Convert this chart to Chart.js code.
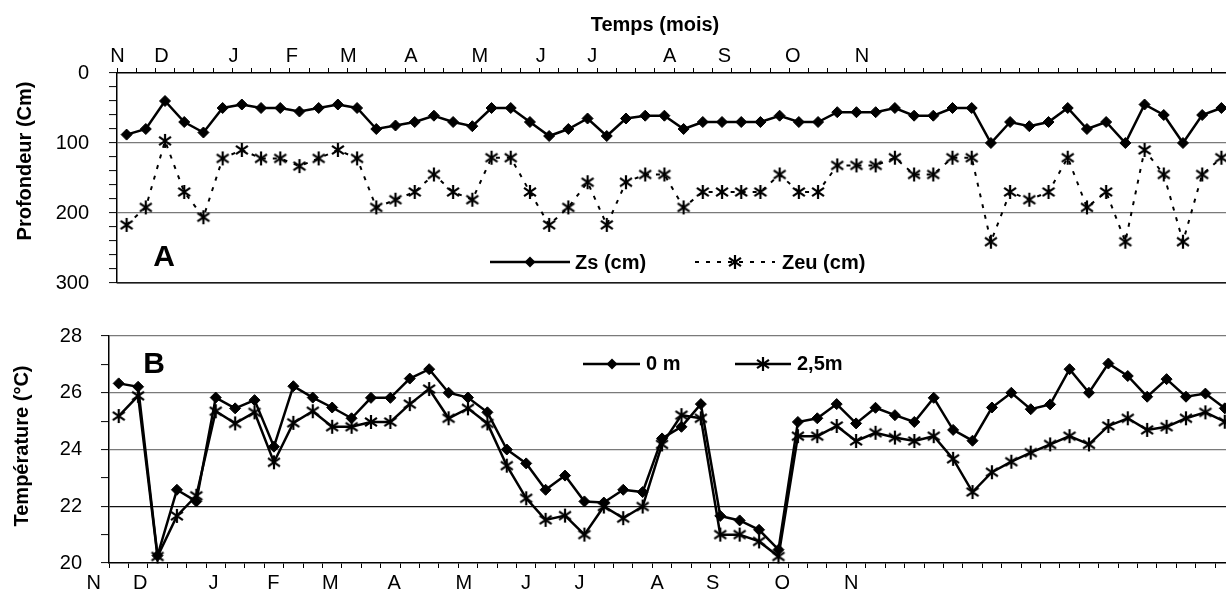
<!DOCTYPE html>
<html>
<head>
<meta charset="utf-8">
<script src="https://cdn.jsdelivr.net/npm/chart.js@4.4.1/dist/chart.umd.min.js"></script>
<style>
  html, body { margin: 0; padding: 0; background: #fff; overflow: hidden; }
  #wrap { position: relative; width: 1226px; height: 592px; overflow: hidden; }
  #chartA { position: absolute; left: 0; top: 0; width: 1240px; height: 300px; }
  #chartB { position: absolute; left: 0; top: 300px; width: 1244px; height: 292px; }
</style>
</head>
<body>
<div id="wrap">
  <canvas id="chartA" width="1240" height="300"></canvas>
  <canvas id="chartB" width="1244" height="292"></canvas>
</div>
<script>
// Month labels and where they sit (in sampling-index units)
const months = ['N', 'D', 'J', 'F', 'M', 'A', 'M', 'J', 'J', 'A', 'S', 'O', 'N'];
const monthPosA = [-0.47, 1.82, 5.56, 8.6, 11.54, 14.8, 18.39, 21.56, 24.25, 28.27, 31.13, 34.68, 38.29];
const monthPosB = [-1.29, 1.11, 4.88, 7.97, 10.91, 14.2, 17.78, 20.99, 23.74, 27.75, 30.61, 34.19, 37.75];

const depthTicks = [0, 100, 200, 300];
const tempTicks = [20, 22, 24, 26, 28];

// Panel A : depths (cm)
const zs = [88, 80, 40, 70, 85, 50, 45, 50, 50, 55, 50, 45, 50, 80, 75, 70,
  61, 70, 76, 50, 50, 70, 90, 80, 65, 90, 65, 61, 61, 80, 70, 70, 70, 70, 61, 70, 70,
  56, 56, 56, 50, 61, 61, 50, 50, 100, 70, 76, 70, 50, 80, 70, 100, 45, 60, 100, 60, 50];
const zeu = [217, 192, 97, 170, 206, 122, 110, 122, 122, 133, 122, 110, 122, 192, 181, 170,
  145, 170, 181, 121, 121, 170, 217, 192, 156, 217, 156, 145, 145, 192, 170, 170, 170, 170, 145, 170, 170,
  132, 132, 132, 121, 145, 145, 121, 121, 241, 170, 181, 170, 121, 192, 170, 241, 110, 145, 241, 145, 121];

// Panel B : temperature (°C)
const temp0 = [26.33, 26.21, 20.26, 22.58, 22.17, 25.83, 25.45, 25.74, 24.1, 26.23, 25.83, 25.48, 25.1, 25.82, 25.82, 26.5,
  26.83, 26.0, 25.83, 25.31, 24.0, 23.51, 22.58, 23.08, 22.17, 22.13, 22.58, 22.5, 24.39, 24.8, 25.6, 21.66, 21.5, 21.17, 20.47, 24.97, 25.1,
  25.6, 24.92, 25.47, 25.21, 24.97, 25.82, 24.69, 24.31, 25.48, 26.0, 25.42, 25.59, 26.83, 26.0, 27.03, 26.59, 25.86, 26.48, 25.86, 25.97, 25.45];
const temp25 = [25.18, 25.89, 20.23, 21.66, 22.37, 25.35, 24.92, 25.31, 23.55, 24.94, 25.35, 24.8, 24.8, 24.97, 24.97, 25.6,
  26.13, 25.1, 25.45, 24.92, 23.43, 22.28, 21.52, 21.67, 21.0, 21.99, 21.58, 21.99, 24.18, 25.21, 25.1, 21.0, 21.0, 20.76, 20.23, 24.47, 24.47,
  24.83, 24.3, 24.59, 24.42, 24.3, 24.47, 23.67, 22.5, 23.2, 23.57, 23.89, 24.18, 24.47, 24.18, 24.83, 25.1, 24.69, 24.8, 25.1, 25.31, 24.98];

const FONT = '"Liberation Sans", Arial, sans-serif';
Chart.defaults.font.family = FONT;
Chart.defaults.font.size = 20;
Chart.defaults.color = '#000';

// asterisk marker (x + vertical bar)
function makeStar(size) {
  const c = document.createElement('canvas');
  c.width = size;
  c.height = size;
  const g = c.getContext('2d');
  const m = size / 2, r = size / 2 - 1;
  g.strokeStyle = '#000';
  g.lineWidth = 2.2;
  g.beginPath();
  g.moveTo(m, m - r); g.lineTo(m, m + r);
  g.moveTo(m - r * 0.85, m - r * 0.6); g.lineTo(m + r * 0.85, m + r * 0.6);
  g.moveTo(m - r * 0.85, m + r * 0.6); g.lineTo(m + r * 0.85, m - r * 0.6);
  g.stroke();
  return c;
}
const star = makeStar(16);

function pts(arr) {
  return arr.map((v, i) => ({ x: i, y: v }));
}

function diamond(ctx, x, y, r) {
  ctx.beginPath();
  ctx.moveTo(x, y - r);
  ctx.lineTo(x + r, y);
  ctx.lineTo(x, y + r);
  ctx.lineTo(x - r, y);
  ctx.closePath();
  ctx.fill();
}

function vText(ctx, txt, x, y) {
  ctx.save();
  ctx.translate(x, y);
  ctx.rotate(-Math.PI / 2);
  ctx.textAlign = 'center';
  ctx.textBaseline = 'middle';
  ctx.fillText(txt, 0, 0);
  ctx.restore();
}

function noPad(s) {
  s.paddingTop = 0;
  s.paddingBottom = 0;
  s.paddingLeft = 0;
  s.paddingRight = 0;
}

// time axis: a tick mark between each sampling date, month names as extra ticks
function timeAxis(position, monthPos, height, pad) {
  const n = zs.length;
  return {
    type: 'linear',
    position: position,
    min: -0.5,
    max: n - 0.5,
    afterBuildTicks: (s) => {
      const t = [];
      for (let k = 0; k <= n; k++) t.push({ value: k - 0.5 });
      monthPos.forEach((v) => t.push({ value: v }));
      t.sort((a, b) => a.value - b.value);
      s.ticks = t;
    },
    afterFit: (s) => { s.height = height; noPad(s); },
    ticks: {
      autoSkip: false,
      maxRotation: 0,
      minRotation: 0,
      padding: pad,
      font: { size: 20, lineHeight: 1.2 },
      callback: (v) => {
        const i = monthPos.indexOf(v);
        return i >= 0 ? months[i] : '';
      },
    },
    grid: {
      drawOnChartArea: false,
      drawTicks: true,
      tickLength: 5,
      tickWidth: 1,
      tickColor: (c) => (c.tick && Number.isInteger(c.tick.value + 0.5) ? '#000' : 'rgba(0,0,0,0)'),
    },
    border: { color: '#000', width: 1.5 },
  };
}

const common = {
  responsive: false,
  animation: false,
  events: [],
  plugins: { legend: { display: false }, tooltip: { enabled: false } },
};

// Panel A
new Chart(document.getElementById('chartA').getContext('2d'), {
  type: 'line',
  data: {
    datasets: [
      {
        label: 'Zs (cm)',
        data: pts(zs),
        borderColor: '#000',
        borderWidth: 2.5,
        pointStyle: 'rectRot',
        pointRadius: 5.5,
        pointBackgroundColor: '#000',
        pointBorderColor: '#000',
        pointBorderWidth: 1,
        tension: 0,
        clip: false,
      },
      {
        label: 'Zeu (cm)',
        data: pts(zeu),
        borderColor: '#000',
        borderWidth: 2,
        borderDash: [4, 7],
        pointStyle: star,
        pointRadius: 7,
        tension: 0,
        clip: false,
      },
    ],
  },
  options: {
    ...common,
    layout: { padding: { left: 0, top: 0, right: 8, bottom: 17 } },
    scales: {
      x: timeAxis('top', monthPosA, 73, 0),
      y: {
        reverse: true,
        min: 0,
        max: 300,
        afterBuildTicks: (s) => {
          const t = [];
          for (let v = 0; v <= 300; v += 20) t.push({ value: v });
          s.ticks = t;
        },
        afterFit: (s) => { s.width = 117; noPad(s); },
        ticks: {
          autoSkip: false,
          padding: 20,
          callback: (v) => (depthTicks.includes(v) ? String(v) : ''),
        },
        grid: {
          tickLength: 8,
          tickColor: '#000',
          tickWidth: 1,
          lineWidth: 1.2,
          color: (c) => {
            const v = c.tick ? c.tick.value : null;
            if (v === 300) return '#222';
            if (v !== 0 && depthTicks.includes(v)) return '#7a7a7a';
            return 'rgba(0,0,0,0)';
          },
        },
        border: { color: '#000', width: 1.5 },
      },
    },
  },
  plugins: [{
    id: 'decoA',
    afterDraw(chart) {
      const ctx = chart.ctx;
      const a = chart.chartArea;
      ctx.save();
      // closing line along the deepest tick
      const yb = Math.round(chart.scales.y.getPixelForValue(depthTicks[depthTicks.length - 1]));
      ctx.fillStyle = '#1a1a1a';
      ctx.fillRect(a.left, yb - 1, a.right - a.left, 1.5);

      ctx.fillStyle = '#000';
      ctx.strokeStyle = '#000';
      ctx.font = 'bold 20px ' + FONT;
      ctx.textAlign = 'center';
      ctx.textBaseline = 'middle';
      ctx.fillText('Temps (mois)', 655, 25);
      vText(ctx, 'Profondeur (Cm)', 25, 161);
      ctx.font = 'bold 30px ' + FONT;
      ctx.fillText('A', 164, 258);

      // legend
      ctx.font = 'bold 20px ' + FONT;
      ctx.textAlign = 'left';
      ctx.lineWidth = 2.5;
      ctx.beginPath();
      ctx.moveTo(490, 262); ctx.lineTo(570, 262);
      ctx.stroke();
      diamond(ctx, 530, 262, 5.5);
      ctx.fillText('Zs (cm)', 575, 263);

      ctx.lineWidth = 2;
      ctx.setLineDash([4, 7]);
      ctx.beginPath();
      ctx.moveTo(695, 262); ctx.lineTo(775, 262);
      ctx.stroke();
      ctx.setLineDash([]);
      ctx.drawImage(star, 735 - 8, 262 - 8);
      ctx.fillText('Zeu (cm)', 782, 263);
      ctx.restore();
    },
  }],
});

// Panel B
new Chart(document.getElementById('chartB').getContext('2d'), {
  type: 'line',
  data: {
    datasets: [
      {
        label: '0 m',
        data: pts(temp0),
        borderColor: '#000',
        borderWidth: 2.5,
        pointStyle: 'rectRot',
        pointRadius: 5.5,
        pointBackgroundColor: '#000',
        pointBorderColor: '#000',
        pointBorderWidth: 1,
        tension: 0,
        clip: false,
      },
      {
        label: '2,5m',
        data: pts(temp25),
        borderColor: '#000',
        borderWidth: 2.5,
        pointStyle: star,
        pointRadius: 7,
        tension: 0,
        clip: false,
      },
    ],
  },
  options: {
    ...common,
    layout: { padding: { left: 0, top: 36, right: 9, bottom: 0 } },
    scales: {
      x: timeAxis('bottom', monthPosB, 29, 3),
      y: {
        min: 20,
        max: 28,
        afterBuildTicks: (s) => {
          const t = [];
          for (let v = 20; v <= 28; v += 1) t.push({ value: v });
          s.ticks = t;
        },
        afterFit: (s) => { s.width = 109; noPad(s); },
        ticks: {
          autoSkip: false,
          padding: 19,
          callback: (v) => (tempTicks.includes(v) ? String(v) : ''),
        },
        grid: {
          tickLength: 8,
          tickColor: '#000',
          tickWidth: 1,
          lineWidth: 1.2,
          color: (c) => {
            const v = c.tick ? c.tick.value : null;
            if (v === 22) return '#111';
            if (v !== 20 && tempTicks.includes(v)) return '#7a7a7a';
            return 'rgba(0,0,0,0)';
          },
        },
        border: { color: '#000', width: 1.5 },
      },
    },
  },
  plugins: [{
    id: 'decoB',
    afterDraw(chart) {
      const ctx = chart.ctx;
      ctx.save();
      ctx.fillStyle = '#000';
      ctx.strokeStyle = '#000';
      ctx.font = 'bold 20px ' + FONT;
      vText(ctx, 'Température (°C)', 22, 146);
      ctx.font = 'bold 30px ' + FONT;
      ctx.textAlign = 'center';
      ctx.textBaseline = 'middle';
      ctx.fillText('B', 154, 65);

      // legend
      ctx.font = 'bold 20px ' + FONT;
      ctx.textAlign = 'left';
      ctx.lineWidth = 2.5;
      ctx.beginPath();
      ctx.moveTo(583, 64); ctx.lineTo(640, 64);
      ctx.moveTo(735, 64); ctx.lineTo(791, 64);
      ctx.stroke();
      diamond(ctx, 612, 64, 5.5);
      ctx.drawImage(star, 763 - 8, 64 - 8);
      ctx.fillText('0 m', 646, 64);
      ctx.fillText('2,5m', 797, 64);
      ctx.restore();
    },
  }],
});
</script>
</body>
</html>
